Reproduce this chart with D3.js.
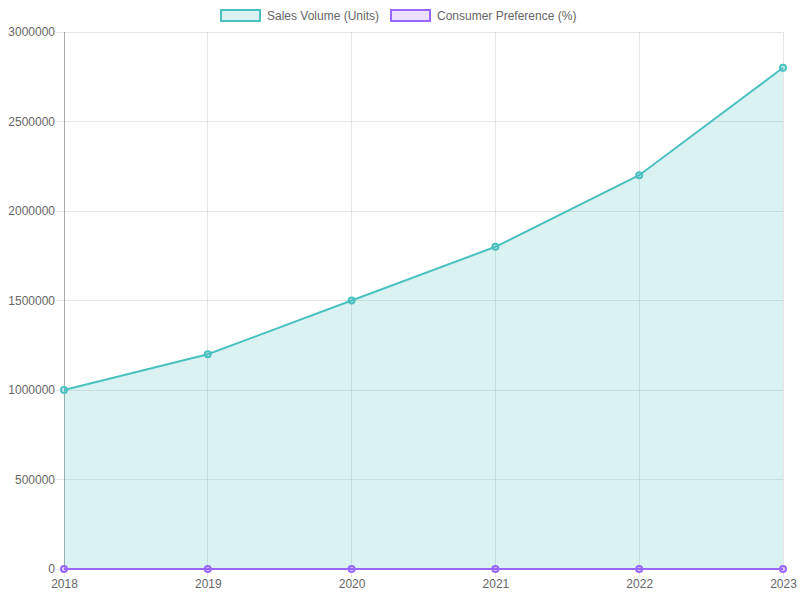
<!DOCTYPE html>
<html><head><meta charset="utf-8">
<script src="https://cdn.jsdelivr.net/npm/d3@7/dist/d3.min.js"></script>
<style>body{margin:0;background:#fff}svg{display:block;font-family:"Liberation Sans",Arial,Helvetica,sans-serif}</style>
</head><body>
<svg id="c" width="800" height="600"></svg>
<script>
const years = ["2018","2019","2020","2021","2022","2023"];
const salesVolume = [1000000, 1200000, 1500000, 1800000, 2200000, 2800000];
const consumerPreference = [15, 20, 25, 30, 35, 40];
const yTicks = [0, 500000, 1000000, 1500000, 2000000, 2500000, 3000000];
const seriesNames = ["Sales Volume (Units)", "Consumer Preference (%)"];
const seriesColors = ["rgb(75,192,192)", "rgb(153,102,255)"];
const seriesFills = ["rgba(75,192,192,0.2)", "rgba(153,102,255,0.2)"];

const svg = d3.select("#c");
const m = {l:64, r:17, t:32, b:31};
const W = 800, H = 600;
const x = d3.scalePoint().domain(years).range([m.l, W - m.r]);
const y = d3.scaleLinear().domain([0, 3000000]).range([H - m.b, m.t]);

// grid
const g = svg.append("g");
g.selectAll(".hg").data(yTicks).join("line")
  .attr("x1", m.l - 8).attr("x2", W - m.r)
  .attr("y1", d => y(d)).attr("y2", d => y(d))
  .attr("stroke", "rgba(0,0,0,0.1)").attr("shape-rendering","crispEdges");
g.selectAll(".vg").data(years).join("line")
  .attr("x1", d => x(d)).attr("x2", d => x(d))
  .attr("y1", m.t).attr("y2", H - m.b + 8)
  .attr("stroke", "rgba(0,0,0,0.1)").attr("shape-rendering","crispEdges");

// axes labels
const yAxis = d3.axisLeft(y).tickValues(yTicks).tickSize(0).tickPadding(9).tickFormat(d3.format("d"));
const ya = svg.append("g").attr("transform", `translate(${m.l},0)`).call(yAxis);
ya.select(".domain").remove();
ya.selectAll("text").attr("fill", "#666").style("font-size", "12px");
const xAxis = d3.axisBottom(x).tickSize(0).tickPadding(10);
const xa = svg.append("g").attr("transform", `translate(0,${H - m.b})`).call(xAxis);
xa.select(".domain").remove();
xa.selectAll("text").attr("fill", "#666").style("font-size", "12px");

// axis border
svg.append("line").attr("x1", m.l).attr("x2", m.l).attr("y1", m.t).attr("y2", H - m.b)
  .attr("stroke", "rgba(0,0,0,0.25)").attr("shape-rendering","crispEdges");

const datasets = [salesVolume, consumerPreference];
datasets.forEach((vals, i) => {
  const pts = years.map((yr, j) => [yr, vals[j]]);
  const area = d3.area().x(d => x(d[0])).y0(y(0)).y1(d => y(d[1]));
  const line = d3.line().x(d => x(d[0])).y(d => y(d[1]));
  svg.append("path").datum(pts).attr("d", area).attr("fill", seriesFills[i]);
  svg.append("path").datum(pts).attr("d", line).attr("fill", "none")
    .attr("stroke", seriesColors[i]).attr("stroke-width", 2);
});
datasets.forEach((vals, i) => {
  svg.append("g").selectAll("circle").data(years.map((yr, j) => [yr, vals[j]])).join("circle")
    .attr("cx", d => x(d[0])).attr("cy", d => y(d[1])).attr("r", 3)
    .attr("fill", seriesFills[i]).attr("stroke", seriesColors[i]).attr("stroke-width", 2);
});

// legend
const leg = svg.append("g");
const legX = [221, 391];
seriesNames.forEach((n, i) => {
  leg.append("rect").attr("x", legX[i]).attr("y", 10).attr("width", 39).attr("height", 11)
    .attr("fill", seriesFills[i]).attr("stroke", seriesColors[i]).attr("stroke-width", 2);
  leg.append("text").attr("x", legX[i] + 46).attr("y", 20).text(n)
    .attr("fill", "#666").style("font-size", "12px");
});
</script>
</body></html>
